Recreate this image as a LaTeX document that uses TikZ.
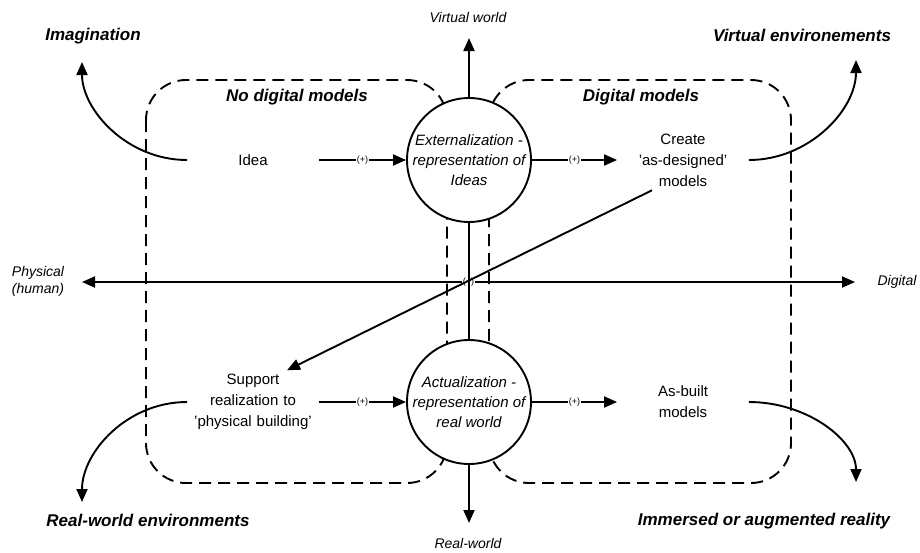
\documentclass[tikz,border=0pt]{standalone}
\usepackage{fontspec}
\setmainfont{Liberation Sans}
\usetikzlibrary{arrows.meta,calc}
\begin{document}
\begin{tikzpicture}[x=1pt,y=-1pt,
  line width=1.9pt,
  arr/.style={-{Triangle[length=13pt,width=11pt]}},
  dblarr/.style={{Triangle[length=13pt,width=11pt]}-{Triangle[length=13pt,width=11pt]}},
  zonebox/.style={dash pattern=on 12pt off 7pt, rounded corners=40pt},
  bigcap/.style={font=\fontsize{17}{20}\selectfont\bfseries\itshape, inner sep=0pt},
  axlabel/.style={font=\fontsize{14}{17}\selectfont\itshape, inner sep=0pt, align=center},
  stepbox/.style={font=\fontsize{15}{21}\selectfont, align=center, text width=124pt, inner sep=3pt},
  circ/.style={circle, draw, fill=white, minimum size=124pt, inner sep=0pt, align=center,
               font=\fontsize{15}{20}\selectfont\itshape},
  plus/.style={font=\fontsize{9}{10}\selectfont, fill=white, inner sep=1pt}]
\useasboundingbox (0,0) rectangle (920,552);

% dashed zones
\draw[zonebox] (146,80) rectangle (447,483);
\draw[zonebox] (489,80) rectangle (791,483);

% labels
\node[bigcap] (imag) at (93,36) {Imagination};
\node[bigcap] (venv) at (802,35) {Virtual environements};
\node[bigcap] (nodig) at (297,97) {No digital models};
\node[bigcap] (dig) at (641,97) {Digital models};
\node[bigcap] (rwenv) at (148,520) {Real-world environments};
\node[bigcap] (imm) at (764,521) {Immersed or augmented reality};
\node[axlabel] (vw) at (468,17) {Virtual world};
\node[axlabel] (rw) at (468,543) {Real-world};
\node[axlabel] (phys) at (38,281) {Physical\\(human)};
\node[axlabel] (digital) at (897,282) {Digital};

% horizontal axis
\coordinate (hl) at (82,282);
\coordinate (hr) at (855,282);
\draw[dblarr] (hl) -- (hr) node[plus, midway] {(+)};

% circles
\node[circ] (c1) at (469,160) {Externalization -\\representation of\\Ideas};
\node[circ] (c2) at (469,402) {Actualization -\\representation of\\real world};

% step texts
\node[stepbox] (idea) at (253,160) {Idea};
\node[stepbox] (create) at (683,160) {Create\\'as-designed'\\models};
\node[stepbox] (support) at (253,402) {Support\\realization to\\'physical building'};
\node[stepbox] (asbuilt) at (683,402) {As-built\\models};

% vertical axis
\coordinate (vwtip) at (469,38);
\coordinate (rwtip) at (469,523);
\draw[arr] (c1.north) -- (vwtip);
\draw (c1.south) -- (c2.north);
\draw[arr] (c2.south) -- (rwtip);

% process arrows
\draw[arr] (idea.east) -- node[plus] {(+)} (c1.west);
\draw[arr] (c1.east) -- node[plus] {(+)} (create.west);
\draw[arr] (support.east) -- node[plus] {(+)} (c2.west);
\draw[arr] (c2.east) -- node[plus] {(+)} (asbuilt.west);

% diagonal
\draw[arr] ($(create.south)+(-31,0)$) -- ($(support.north)+(34,0)$);

% curved arrows
\coordinate (imgtip) at (82,62);
\coordinate (vetip) at (856,60);
\coordinate (rwetip) at (82,502);
\coordinate (imtip) at (856,482);
\draw[arr] (idea.west) .. controls +(-60,0) and +(0,48) .. (imgtip);
\draw[arr] (create.east) .. controls +(60,0) and +(0,50) .. (vetip);
\draw[arr] (support.west) .. controls +(-60,0) and +(0,-50) .. (rwetip);
\draw[arr] (asbuilt.east) .. controls +(58,0) and +(0,-42) .. (imtip);
\end{tikzpicture}
\end{document}
